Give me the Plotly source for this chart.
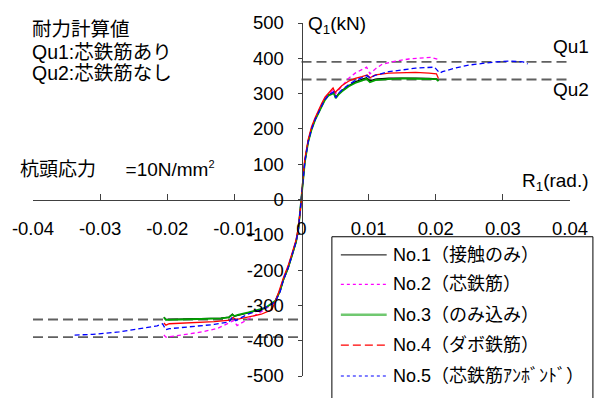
import plotly.graph_objects as go

# ---- data -------------------------------------------------------------
x_ticks = [-0.04, -0.03, -0.02, -0.01, 0, 0.01, 0.02, 0.03, 0.04]
x_tick_text = ["-0.04", "-0.03", "-0.02", "-0.01", "0", "0.01", "0.02", "0.03", "0.04"]
y_ticks = [-500, -400, -300, -200, -100, 0, 100, 200, 300, 400, 500]
y_tick_text = ["-500", "-400", "-300", "-200", "-100", "0", "100", "200", "300", "400", "500"]

qu1 = 390   # calculated capacity with core rebar (kN)
qu2 = 340   # calculated capacity without core rebar (kN)

series_names = ["No.1（接触のみ）", "No.2（芯鉄筋）", "No.3（のみ込み）",
                "No.4（ダボ鉄筋）", "No.5（芯鉄筋ｱﾝﾎﾞﾝﾄﾞ）"]

# No.1 contact only
no1_pos_r = [0, 0.0002, 0.0005, 0.001, 0.0015, 0.002, 0.0025, 0.003, 0.0035, 0.004, 0.0048, 0.0051,
             0.0055, 0.006, 0.007, 0.008, 0.009, 0.0097, 0.0102, 0.011, 0.013, 0.015, 0.017, 0.019,
             0.0201, 0.0204]
no1_pos_q = [0, 50, 108, 165, 200, 226, 248, 265, 284, 296, 304, 290, 299, 309, 322, 333, 340, 345,
             336, 341, 344, 345, 344, 343, 342, 336]
no1_neg_r = [0, -0.0002, -0.00045, -0.0008, -0.0014, -0.002, -0.0027, -0.0032, -0.0039, -0.0054,
             -0.0079, -0.0095, -0.0100, -0.0103, -0.0108, -0.012, -0.015, -0.018, -0.0202, -0.0205]
no1_neg_q = [0, -38, -83, -120, -158, -195, -228, -260, -288, -308, -321, -328, -331, -325, -333,
             -336, -338, -339, -340, -333]

# No.2 core rebar
no2_pos_r = [0, 0.0002, 0.0005, 0.001, 0.0015, 0.002, 0.0025, 0.003, 0.0035, 0.004, 0.0047, 0.005,
             0.0055, 0.006, 0.007, 0.008, 0.009, 0.0097, 0.0102, 0.011, 0.012, 0.014, 0.016, 0.018,
             0.0193, 0.0203]
no2_pos_q = [0, 52, 110, 166, 202, 228, 250, 268, 286, 298, 310, 298, 310, 322, 343, 358, 368, 375,
             356, 370, 383, 392, 398, 401, 403, 397]
no2_neg_r = [0, -0.0002, -0.00045, -0.0008, -0.0014, -0.002, -0.0027, -0.0033, -0.004, -0.006,
             -0.0079, -0.0096, -0.0101, -0.011, -0.0125, -0.0148, -0.017, -0.0197, -0.0202, -0.0205]
no2_neg_q = [0, -36, -80, -117, -155, -193, -228, -262, -292, -318, -338, -357, -343, -352, -365,
             -375, -382, -389, -390, -384]

# No.3 embedded
no3_pos_r = list(no1_pos_r)
no3_pos_q = [0, 48, 106, 163, 198, 224, 246, 263, 282, 294, 301, 287, 297, 306, 320, 330, 337, 342,
             332, 338, 341, 343, 342, 342, 341, 335]
no3_neg_r = [0, -0.0002, -0.00045, -0.0008, -0.0014, -0.002, -0.0027, -0.0032, -0.0039, -0.0054,
             -0.0079, -0.0095, -0.0100, -0.0103, -0.0108, -0.012, -0.015, -0.018, -0.0202, -0.0205]
no3_neg_q = [0, -37, -82, -119, -157, -194, -227, -259, -287, -307, -320, -327, -330, -326, -334,
             -337, -339, -340, -341, -334]

# No.4 dowel rebar
no4_pos_r = [0, 0.0002, 0.0005, 0.001, 0.0015, 0.002, 0.0025, 0.003, 0.0035, 0.004, 0.0047, 0.005,
             0.0053, 0.006, 0.007, 0.008, 0.009, 0.0098, 0.0102, 0.011, 0.013, 0.015, 0.017, 0.019,
             0.0201, 0.0204]
no4_pos_q = [0, 58, 115, 170, 206, 230, 252, 272, 290, 302, 316, 303, 308, 322, 335, 343, 348, 353,
             345, 353, 358, 360, 360, 358, 356, 343]
no4_neg_r = [0, -0.0002, -0.00045, -0.0008, -0.0014, -0.002, -0.0027, -0.0035, -0.0044, -0.006,
             -0.008, -0.0098, -0.0102, -0.0106, -0.013, -0.016, -0.0197, -0.0202, -0.0205]
no4_neg_q = [0, -34, -78, -114, -152, -188, -222, -268, -312, -325, -333, -340, -334, -342, -346,
             -349, -352, -356, -350]

# No.5 core rebar, unbonded
no5_pos_r = [0, 0.0002, 0.0005, 0.001, 0.0015, 0.002, 0.0025, 0.003, 0.0035, 0.004, 0.0048, 0.0051,
             0.0055, 0.006, 0.007, 0.008, 0.009, 0.0097, 0.0102, 0.011, 0.013, 0.015, 0.017, 0.0198,
             0.0206, 0.021, 0.023, 0.025, 0.027, 0.029, 0.031, 0.033, 0.0337]
no5_pos_q = [0, 50, 107, 164, 199, 225, 247, 265, 283, 295, 305, 288, 300, 310, 325, 337, 345, 351,
             345, 352, 362, 368, 372, 375, 358, 362, 373, 381, 386, 390, 392, 390, 384]
no5_neg_r = [0, -0.0002, -0.00045, -0.0008, -0.0014, -0.002, -0.0027, -0.0032, -0.0039, -0.006,
             -0.008, -0.0098, -0.0103, -0.0108, -0.013, -0.016, -0.0197, -0.0202, -0.0207, -0.0215,
             -0.0232, -0.0272, -0.0311, -0.0338]
no5_neg_q = [0, -37, -82, -119, -157, -194, -228, -262, -290, -312, -325, -343, -333, -347, -354,
             -360, -366, -369, -352, -358, -363, -375, -382, -384]

# ---- layout geometry (pixels) ------------------------------------------
W, H = 600, 398
ML, MR, MT, MB = 33, 28, 20, 18
PW, PH = W - ML - MR, H - MT - MB


def px(x):
    return (x - ML) / PW


def py(y):
    return (H - MB - y) / PH


FONT = "Liberation Sans, Arial, Noto Sans CJK JP, sans-serif"

fig = go.Figure()

# capacity reference lines: positive side on the right half, negative side on the left half
for q, x0, x1 in ((qu1, 0, x_ticks[-1]), (qu2, 0, x_ticks[-1]),
                  (-qu1, x_ticks[0], 0), (-qu2, x_ticks[0], 0)):
    fig.add_trace(go.Scatter(x=[x0, x1], y=[q, q], mode="lines",
                             line=dict(color="#606060", width=1.8, dash="10px,5px"),
                             showlegend=False, hoverinfo="skip"))

curves = [
    (no1_neg_r, no1_neg_q, no1_pos_r, no1_pos_q, dict(color="#000000", width=1.3)),
    (no2_neg_r, no2_neg_q, no2_pos_r, no2_pos_q, dict(color="#ff00ff", width=1.3, dash="4px,3px")),
    (no3_neg_r, no3_neg_q, no3_pos_r, no3_pos_q, dict(color="#00a000", width=1.8)),
    (no4_neg_r, no4_neg_q, no4_pos_r, no4_pos_q, dict(color="#ff0000", width=1.3)),
    (no5_neg_r, no5_neg_q, no5_pos_r, no5_pos_q, dict(color="#0000ff", width=1.3, dash="5px,3px")),
]
for name, (nr, nq, pr, pq, ln) in zip(series_names, curves):
    fig.add_trace(go.Scatter(x=nr[::-1] + pr[1:], y=nq[::-1] + pq[1:], mode="lines",
                             line=ln, name=name, showlegend=False))

axis_common = dict(showgrid=False, zeroline=False, showline=True, linecolor="#404040",
                   linewidth=1, tickcolor="#404040", tickfont=dict(size=18.5, color="#000"),
                   anchor="free", position=0.5)

fig.update_layout(
    width=W, height=H,
    margin=dict(l=ML, r=MR, t=MT, b=MB),
    paper_bgcolor="white", plot_bgcolor="white",
    font=dict(family=FONT, color="#000"),
    showlegend=False,
    xaxis=dict(range=[-0.04, 0.04], tickvals=x_ticks, ticktext=x_tick_text,
               ticks="inside", ticklen=6, ticklabelstandoff=12, **axis_common),
    yaxis=dict(range=[-500, 500], tickvals=y_ticks, ticktext=y_tick_text,
               ticks="outside", ticklen=4, ticklabelstandoff=10, **axis_common),
)

# text annotations
texts = [
    ("Q<sub>1</sub>(kN)", 307, 22, 19),
    ("R<sub>1</sub>(rad.)", 522, 182, 19),
    ("Qu1", 553, 44, 19),
    ("Qu2", 553, 88, 19),
    ("耐力計算値", 30, 26, 19.5),
    ("Qu1:芯鉄筋あり", 30, 49.5, 19.5),
    ("Qu2:芯鉄筋なし", 30, 71, 19.5),
    ("杭頭応力\u3000  =10N/mm<sup><span style='font-size:11px'>2</span></sup>", 18, 169, 19),
]
for t, x, y, s in texts:
    fig.add_annotation(text=t, x=px(x), y=py(y), xref="paper", yref="paper",
                       xanchor="left", yanchor="middle", showarrow=False,
                       font=dict(size=s, color="#000"))

# legend box
fig.add_shape(type="rect", xref="paper", yref="paper", x0=px(333), x1=px(595),
              y0=py(404), y1=py(238), line=dict(color="#000", width=1), fillcolor="white")
legend_lines = [
    dict(color="#000000", width=1),
    dict(color="#ff00ff", width=1.3, dash="3px,3px"),
    dict(color="#70c870", width=2.5),
    dict(color="#ff0000", width=1.3, dash="8px,4px"),
    dict(color="#5555ff", width=1.5, dash="3px,3px"),
]
row_y = [256.5, 286.5, 317.5, 348.5, 380]
for name, ln, ry in zip(series_names, legend_lines, row_y):
    fig.add_shape(type="line", xref="paper", yref="paper", x0=px(342), x1=px(388),
                  y0=py(ry), y1=py(ry), line=ln)
    fig.add_annotation(text=name, x=px(392), y=py(ry), xref="paper", yref="paper",
                       xanchor="left", yanchor="middle", showarrow=False,
                       font=dict(size=18, color="#000"))

fig.write_html("out.html")
